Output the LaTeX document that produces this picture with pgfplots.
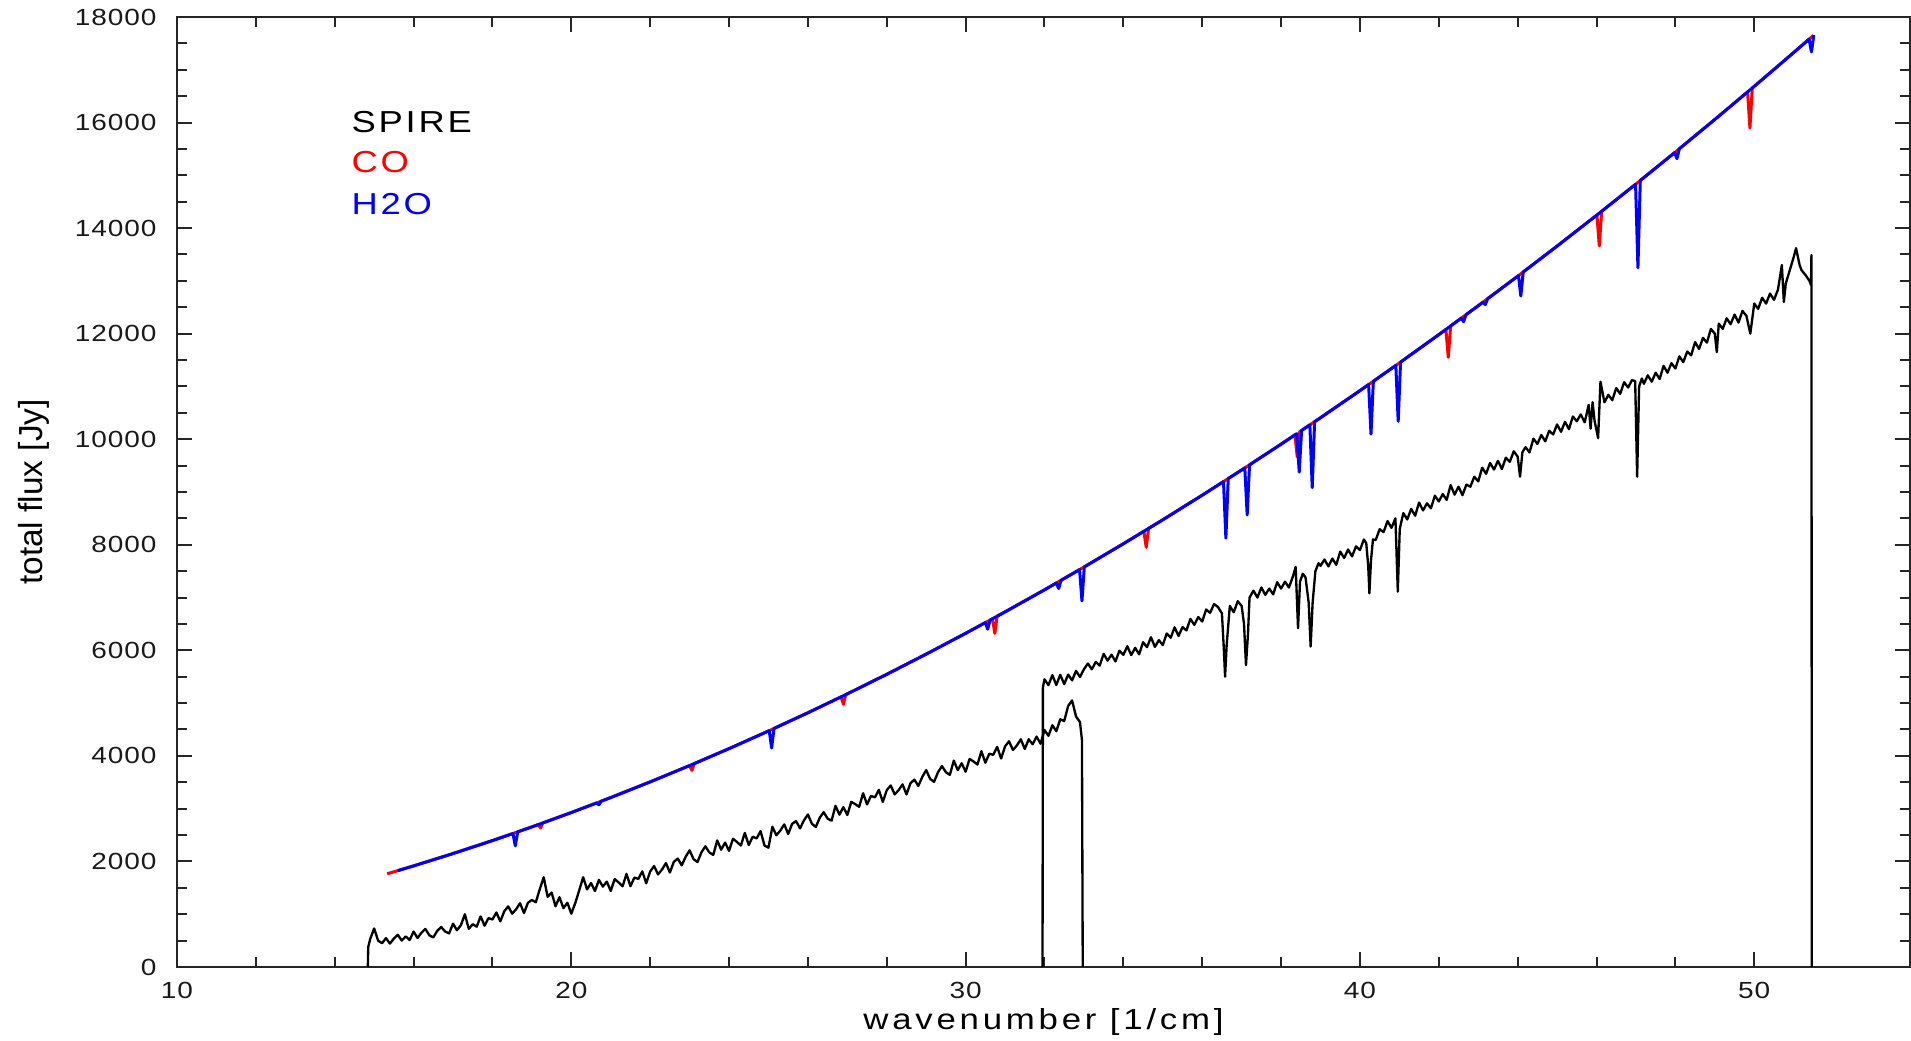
\documentclass[border=0pt]{standalone}
\usepackage{fontspec}
\setmainfont{Liberation Sans}
\newfontfamily\xlabfont[FakeStretch=1.2,LetterSpace=13]{Liberation Sans}
\newfontfamily\legfont[FakeStretch=1.2,LetterSpace=9]{Liberation Sans}
\newfontfamily\tickfont[FakeStretch=1.2,LetterSpace=4]{Liberation Sans}
\newfontfamily\ylabfont{Liberation Sans}
\usepackage{pgfplots}
\usepackage{pgfplotstable}
\pgfplotsset{compat=1.18}

% SPIRE long-wavelength band (SLW)
\pgfplotstableread{
x y
14.84 0
14.85 380
14.9 530
15.0 730
15.1 500
15.2 450
15.3 547
15.4 443
15.5 540
15.6 610
15.7 500
15.8 580
15.9 510
16.0 670
16.1 550
16.2 650
16.3 720
16.4 600
16.5 560
16.6 684
16.7 758
16.8 672
16.9 636
17.0 820
17.1 696
17.2 792
17.3 998
17.4 724
17.5 810
17.6 764
17.7 958
17.8 782
17.9 926
18.0 900
18.1 1032
18.2 864
18.3 1056
18.4 1148
18.5 1010
18.6 1094
18.7 1208
18.8 1022
18.9 1216
19.0 1270
19.1 1227
19.2 1473
19.3 1700
19.4 1330
19.5 1410
19.6 1150
19.7 1322
19.8 1115
19.9 1217
20.0 1010
20.1 1210
20.2 1450
20.3 1700
20.4 1470
20.5 1590
20.6 1440
20.7 1650
20.8 1523
20.9 1617
21.0 1440
21.1 1666
21.2 1602
21.3 1528
21.4 1764
21.5 1530
21.6 1694
21.7 1668
21.8 1812
21.9 1586
22.0 1810
22.1 1912
22.2 1754
22.3 1846
22.4 1968
22.5 1790
22.6 1992
22.7 2054
22.8 1926
22.9 2088
23.0 2210
23.1 2044
23.2 1988
23.3 2172
23.4 2286
23.5 2170
23.6 2124
23.7 2398
23.8 2222
23.9 2356
24.0 2200
24.1 2430
24.2 2370
24.3 2300
24.4 2540
24.5 2310
24.6 2468
24.7 2436
24.8 2574
24.9 2300
25.0 2260
25.1 2658
25.2 2496
25.3 2584
25.4 2702
25.5 2520
25.6 2712
25.7 2764
25.8 2626
25.9 2778
26.0 2890
26.1 2716
26.2 2652
26.3 2828
26.4 2934
26.5 2810
26.6 2772
26.7 3054
26.8 2886
26.9 3028
27.0 2880
27.1 3128
27.2 3086
27.3 3034
27.4 3292
27.5 3080
27.6 3242
27.7 3214
27.8 3356
27.9 3128
28.0 3350
28.1 3440
28.2 3270
28.3 3350
28.4 3460
28.5 3270
28.6 3480
28.7 3550
28.8 3430
28.9 3600
29.0 3730
29.1 3564
29.2 3508
29.3 3692
29.4 3806
29.5 3690
29.6 3640
29.7 3910
29.8 3730
29.9 3860
30.0 3700
30.1 3942
30.2 3894
30.3 3836
30.4 4088
30.5 3870
30.6 4040
30.7 4020
30.8 4170
30.9 3950
31.0 4180
31.1 4276
31.2 4112
31.3 4198
31.4 4314
31.5 4130
31.6 4315
31.7 4220
31.8 4365
31.9 4230
32.0 4490
32.1 4380
32.2 4580
32.3 4467
32.4 4693
32.5 4660
32.6 4945
32.7 5050
32.8 4747
32.9 4640
32.95 4300
32.97 0
}\slw

% SPIRE short-wavelength band (SSW)
\pgfplotstableread{
x y
31.95 0
31.96 5300
32.0 5450
32.1 5340
32.2 5530
32.3 5343
32.4 5537
32.5 5360
32.6 5540
32.7 5430
32.8 5610
32.9 5495
33.0 5640
33.1 5750
33.2 5640
33.3 5780
33.4 5710
33.5 5932
33.6 5805
33.7 5917
33.8 5790
33.9 5992
34.0 5915
34.1 6077
34.2 5910
34.3 6047
34.4 5925
34.5 6153
34.6 6060
34.7 6248
34.8 6065
34.9 6193
35.0 6100
35.1 6320
35.2 6237
35.3 6435
35.4 6272
35.5 6440
35.6 6377
35.7 6595
35.8 6482
35.9 6630
36.0 6547
36.1 6773
36.2 6710
36.3 6877
36.4 6820
36.5 6700
36.55 6000
36.58 5500
36.62 6100
36.7 6840
36.8 6720
36.9 6930
37.0 6840
37.06 6500
37.11 5720
37.16 6300
37.2 7000
37.3 7130
37.4 7000
37.5 7190
37.6 7050
37.7 7170
37.8 7060
37.9 7290
38.0 7170
38.1 7300
38.2 7190
38.3 7400
38.37 7580
38.43 6420
38.48 7300
38.55 7450
38.62 7380
38.7 6900
38.75 6070
38.8 6900
38.87 7500
38.95 7650
39.0 7600
39.1 7720
39.2 7590
39.3 7740
39.4 7620
39.5 7870
39.6 7750
39.7 7910
39.8 7780
39.9 7970
40.0 7900
40.1 8100
40.16 8030
40.21 7600
40.24 7080
40.28 7700
40.33 8100
40.4 8090
40.5 8295
40.6 8240
40.7 8450
40.8 8320
40.9 8500
40.96 7111
41.01 8300
41.1 8600
41.2 8480
41.3 8680
41.4 8550
41.5 8800
41.6 8650
41.7 8785
41.8 8690
41.9 8930
42.0 8820
42.1 8960
42.2 8850
42.3 9130
42.4 8950
42.5 9100
42.6 8940
42.7 9140
42.8 9100
42.9 9290
43.0 9200
43.1 9460
43.2 9345
43.3 9550
43.4 9425
43.5 9590
43.6 9435
43.7 9650
43.8 9570
43.9 9770
44.0 9670
44.06 9290
44.12 9750
44.2 9850
44.3 9750
44.4 10010
44.5 9910
44.6 10080
44.7 9960
44.8 10160
44.9 10090
45.0 10280
45.1 10140
45.2 10330
45.3 10190
45.4 10430
45.5 10340
45.6 10470
45.7 10320
45.8 10650
45.85 10200
45.9 10700
45.95 10350
46.04 10020
46.1 11090
46.2 10700
46.3 10840
46.4 10740
46.5 10970
46.6 10860
46.7 11080
46.8 10980
46.9 11120
46.98 11100
47.03 9290
47.08 11000
47.15 11150
47.2 11050
47.3 11210
47.4 11090
47.5 11260
47.6 11140
47.7 11390
47.8 11260
47.9 11440
48.0 11340
48.1 11570
48.2 11460
48.3 11660
48.4 11590
48.5 11840
48.6 11710
48.7 11920
48.8 11830
48.9 12090
49.0 12000
49.05 11650
49.1 12190
49.2 12090
49.3 12290
49.4 12180
49.5 12360
49.6 12210
49.7 12430
49.8 12340
49.9 12000
50.0 12570
50.1 12470
50.2 12680
50.3 12570
50.4 12760
50.5 12640
50.6 12830
50.7 13300
50.75 12600
50.8 12950
50.9 13200
51.0 13450
51.06 13620
51.15 13300
51.2 13200
51.3 13110
51.4 13000
51.44 12920
51.45 13490
51.46 0
}\ssw

% model continuum with CO lines
\pgfplotstableread{
x y
15.33 1766
16 1915
17 2149
18 2395
19 2654
19.16 2698
19.22 2634
19.28 2730
20 2926
21 3210
22 3507
23 3816
23.06 3725
23.12 3854
24 4137
25 4471
26 4817
26.84 5117
26.90 4979
26.96 5161
27 5175
28 5545
29 5928
30 6322
30.68 6597
30.74 6322
30.80 6647
31 6728
32 7146
33 7577
34 8019
34.52 8255
34.58 7952
34.64 8309
35 8473
36 8939
37 9417
38 9906
38.35 10081
38.41 9661
38.47 10141
39 10407
40 10920
41 11445
42 11981
42.18 12080
42.24 11553
42.30 12146
43 12529
44 13088
45 13659
46 14242
46.01 14248
46.07 13663
46.13 14318
47 14836
48 15441
49 16058
49.83 16579
49.89 15897
49.95 16655
50 16686
51 17326
51.5 17650
}\comodel

% model continuum with H2O lines
\pgfplotstableread{
x y
15.6 1826
16 1915
17 2149
18 2395
18.52 2529
18.58 2295
18.64 2561
19 2654
20 2926
20.64 3108
20.70 3075
20.76 3142
21 3210
22 3507
23 3816
24 4137
25 4471
25.02 4479
25.08 4149
25.14 4519
26 4817
27 5175
28 5545
29 5928
30 6322
30.50 6525
30.56 6399
30.62 6573
31 6728
32 7146
32.30 7275
32.36 7171
32.42 7327
32.89 7529
32.95 6935
33.01 7581
34 8019
35 8473
36 8939
36.54 9197
36.60 8126
36.66 9255
37 9417
37.08 9456
37.14 8565
37.20 9514
38 9906
38.40 10106
38.46 9376
38.52 10166
38.73 10272
38.79 9082
38.85 10332
39 10407
40 10920
40.22 11036
40.28 10097
40.34 11098
40.91 11397
40.97 10339
41.03 11461
42 11981
42.57 12293
42.63 12226
42.69 12359
43 12529
43.12 12597
43.18 12550
43.24 12663
44 13088
44.02 13100
44.08 12714
44.14 13168
45 13659
46 14242
46.99 14830
47.05 13246
47.11 14902
47.98 15429
48.04 15316
48.10 15503
49 16058
50 16686
51 17326
51.39 17579
51.45 17338
51.51 17657
}\hwomodel

\begin{document}
\begin{tikzpicture}
\begin{axis}[
  scale only axis,
  width=519.9pt, height=285pt,
  xmin=10, xmax=53.95, ymin=0, ymax=18000,
  xtick={10,20,30,40,50}, minor x tick num=4,
  ytick={0,2000,4000,6000,8000,10000,12000,14000,16000,18000},
  minor y tick num=3,
  scaled y ticks=false, scaled x ticks=false,
  major tick length=4.5pt, minor tick length=3pt,
  tick align=inside,
  axis line style={line width=0.6pt, draw=black!85},
  every tick/.style={line width=0.6pt, black!85},
  ticklabel style={font=\tickfont\fontsize{7}{8}\selectfont, text=black!90},
  /pgf/number format/assume math mode=true,
  /pgf/number format/set thousands separator={},
  xticklabel style={yshift=-1pt},
  yticklabel style={xshift=-2.6pt},
  xlabel={wavenumber [1/cm]},
  ylabel={total flux [Jy]},
  xlabel style={font=\xlabfont\fontsize{8.7}{10}\selectfont, at={(axis description cs:0.5,-0.0663)}, anchor=base},
  ylabel style={font=\ylabfont\fontsize{10}{12}\selectfont, at={(axis description cs:-0.08252,0.5)}, anchor=center},
]
\addplot[black, line width=0.7pt, line join=round] table {\slw};
\addplot[black, line width=0.7pt, line join=round] table {\ssw};
\addplot[red, line width=0.9pt, line join=round] table {\comodel};
\addplot[blue, line width=0.9pt, line join=round] table {\hwomodel};
\node[anchor=base west, font=\legfont\fontsize{9.1}{11}\selectfont, text=black, inner sep=0pt] at (rel axis cs:0.1004,0.878) {SPIRE};
\node[anchor=base west, font=\legfont\fontsize{9.1}{11}\selectfont, text=red, inner sep=0pt] at (rel axis cs:0.1004,0.836) {CO};
\node[anchor=base west, font=\legfont\fontsize{9.1}{11}\selectfont, text=blue, inner sep=0pt] at (rel axis cs:0.1004,0.792) {H2O};
\end{axis}
\pgfresetboundingbox
\useasboundingbox ([xshift=-53.1pt,yshift=-22.2pt]current axis.south west) rectangle ([xshift=0.3pt,yshift=5.1pt]current axis.north east);
\end{tikzpicture}
\end{document}
